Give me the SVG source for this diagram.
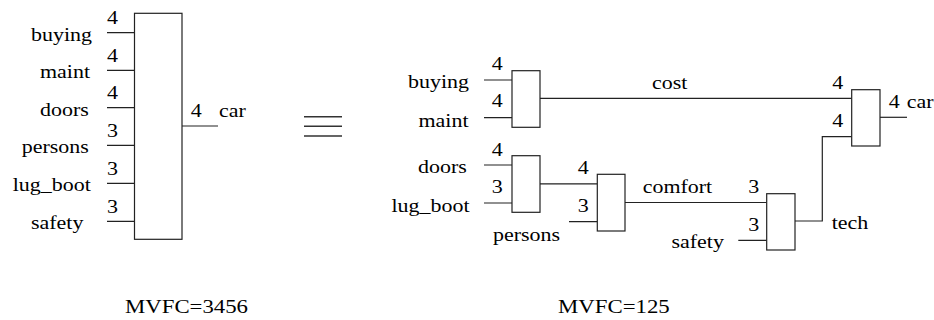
<svg xmlns="http://www.w3.org/2000/svg" width="934" height="320" viewBox="0 0 934 320">
<style>
text{font-family:"Liberation Serif","Times New Roman",serif;font-size:18px;fill:#000}
.cap{font-size:19px}
.box{fill:#fff;stroke:#222;stroke-width:1.2}
.ln{fill:none;stroke:#222;stroke-width:1.2}
.eq{stroke:#333;stroke-width:1.5}
</style>
<g id="connectors">
<path class="ln" d="M107 32.7H135M107 70.3H135M107 107.7H135M107 145.3H135M107 183.3H135M107 221.3H135"/>
<path class="ln" d="M182 126H218"/>
<path class="ln" d="M484 80H512M484 117.7H512"/>
<path class="ln" d="M540 98.3H851.7"/>
<path class="ln" d="M484 165H512M484 203H512"/>
<path class="ln" d="M540 183.8H597.3M569 221.7H597.3"/>
<path class="ln" d="M625 202.5H766.7M738.3 240.3H766.7"/>
<path class="ln" d="M795 221H822.3V136.7H851.7"/>
<path class="ln" d="M880 117.3H907"/>
</g>
<g id="full-box">
<rect class="box" x="134.5" y="13.3" width="47.5" height="226"/>
<text font-family="Liberation Serif" x="107" y="24.3" textLength="11" lengthAdjust="spacingAndGlyphs">4</text>
<text font-family="Liberation Serif" x="107" y="62" textLength="11" lengthAdjust="spacingAndGlyphs">4</text>
<text font-family="Liberation Serif" x="107" y="99.3" textLength="11" lengthAdjust="spacingAndGlyphs">4</text>
<text font-family="Liberation Serif" x="107" y="137" textLength="11" lengthAdjust="spacingAndGlyphs">3</text>
<text font-family="Liberation Serif" x="107" y="175" textLength="11" lengthAdjust="spacingAndGlyphs">3</text>
<text font-family="Liberation Serif" x="107" y="213" textLength="11" lengthAdjust="spacingAndGlyphs">3</text>
<text font-family="Liberation Serif" x="31" y="40.7" textLength="61" lengthAdjust="spacingAndGlyphs">buying</text>
<text font-family="Liberation Serif" x="40" y="78.3" textLength="50" lengthAdjust="spacingAndGlyphs">maint</text>
<text font-family="Liberation Serif" x="40" y="115.7" textLength="48.8" lengthAdjust="spacingAndGlyphs">doors</text>
<text font-family="Liberation Serif" x="21.7" y="153.3" textLength="67.1" lengthAdjust="spacingAndGlyphs">persons</text>
<text font-family="Liberation Serif" x="12.7" y="191.3" textLength="78.1" lengthAdjust="spacingAndGlyphs">lug_boot</text>
<text font-family="Liberation Serif" x="31" y="229.3" textLength="52.4" lengthAdjust="spacingAndGlyphs">safety</text>
<text font-family="Liberation Serif" x="190.7" y="116.8" textLength="11" lengthAdjust="spacingAndGlyphs">4</text>
<text font-family="Liberation Serif" x="219" y="116.8" textLength="26.8" lengthAdjust="spacingAndGlyphs">car</text>
</g>
<g id="equiv">
<path class="eq" d="M304 116.8H342M304 126.3H342M304 135.9H342"/>
</g>
<g id="cost-box">
<rect class="box" x="512" y="70.7" width="28" height="56.6"/>
<text font-family="Liberation Serif" x="491.7" y="70" textLength="11" lengthAdjust="spacingAndGlyphs">4</text>
<text font-family="Liberation Serif" x="491.7" y="107.3" textLength="11" lengthAdjust="spacingAndGlyphs">4</text>
<text font-family="Liberation Serif" x="408" y="88.3" textLength="61" lengthAdjust="spacingAndGlyphs">buying</text>
<text font-family="Liberation Serif" x="418.5" y="126.5" textLength="50" lengthAdjust="spacingAndGlyphs">maint</text>
<text font-family="Liberation Serif" x="652" y="89.3" textLength="35.4" lengthAdjust="spacingAndGlyphs">cost</text>
</g>
<g id="comfort1-box">
<rect class="box" x="512" y="155.7" width="28" height="56.6"/>
<text font-family="Liberation Serif" x="491.7" y="156" textLength="11" lengthAdjust="spacingAndGlyphs">4</text>
<text font-family="Liberation Serif" x="491.7" y="193.3" textLength="11" lengthAdjust="spacingAndGlyphs">3</text>
<text font-family="Liberation Serif" x="418" y="173.3" textLength="48.8" lengthAdjust="spacingAndGlyphs">doors</text>
<text font-family="Liberation Serif" x="391.5" y="211.7" textLength="78.1" lengthAdjust="spacingAndGlyphs">lug_boot</text>
</g>
<g id="comfort-box">
<rect class="box" x="597.3" y="174.3" width="27.7" height="56.7"/>
<text font-family="Liberation Serif" x="577.7" y="174.3" textLength="11" lengthAdjust="spacingAndGlyphs">4</text>
<text font-family="Liberation Serif" x="577.7" y="212.3" textLength="11" lengthAdjust="spacingAndGlyphs">3</text>
<text font-family="Liberation Serif" x="493" y="241" textLength="67.1" lengthAdjust="spacingAndGlyphs">persons</text>
<text font-family="Liberation Serif" x="642.7" y="192.7" textLength="69.5" lengthAdjust="spacingAndGlyphs">comfort</text>
</g>
<g id="tech-box">
<rect class="box" x="766.7" y="193.7" width="28.3" height="56.3"/>
<text font-family="Liberation Serif" x="748.3" y="193.3" textLength="11" lengthAdjust="spacingAndGlyphs">3</text>
<text font-family="Liberation Serif" x="748.3" y="231" textLength="11" lengthAdjust="spacingAndGlyphs">3</text>
<text font-family="Liberation Serif" x="671.5" y="248.3" textLength="52.4" lengthAdjust="spacingAndGlyphs">safety</text>
<text font-family="Liberation Serif" x="831.7" y="229.3" textLength="36.6" lengthAdjust="spacingAndGlyphs">tech</text>
</g>
<g id="car-box">
<rect class="box" x="851.7" y="89.7" width="28.3" height="56.3"/>
<text font-family="Liberation Serif" x="832.3" y="89.3" textLength="11" lengthAdjust="spacingAndGlyphs">4</text>
<text font-family="Liberation Serif" x="832.3" y="126.7" textLength="11" lengthAdjust="spacingAndGlyphs">4</text>
<text font-family="Liberation Serif" x="888.7" y="107.5" textLength="11" lengthAdjust="spacingAndGlyphs">4</text>
<text font-family="Liberation Serif" x="906.7" y="107.8" textLength="26.8" lengthAdjust="spacingAndGlyphs">car</text>
</g>
<g id="captions">
<text class="cap" font-family="Liberation Serif" x="125" y="313" textLength="123" lengthAdjust="spacingAndGlyphs">MVFC=3456</text>
<text class="cap" font-family="Liberation Serif" x="558" y="313" textLength="111.7" lengthAdjust="spacingAndGlyphs">MVFC=125</text>
</g>
</svg>
